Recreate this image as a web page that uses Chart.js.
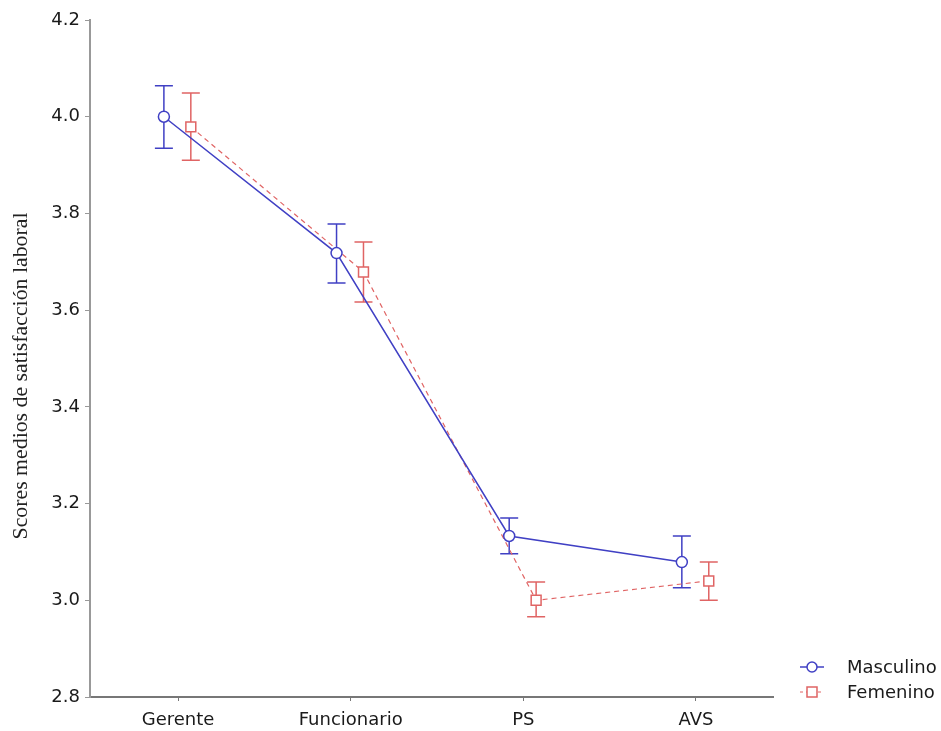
<!DOCTYPE html>
<html>
<head>
<meta charset="utf-8">
<script src="https://cdn.jsdelivr.net/npm/chart.js@4.4.0/dist/chart.umd.min.js"></script>
<style>
html,body{margin:0;padding:0;background:#fff;}
#wrap{width:941px;height:731px;position:relative;}
</style>
</head>
<body>
<div id="wrap"><canvas id="c" width="941" height="731"></canvas></div>
<script>
const categories = ['Gerente', 'Funcionario', 'PS', 'AVS'];
const yTicks = [2.8, 3.0, 3.2, 3.4, 3.6, 3.8, 4.0, 4.2];
const mascMean = [4.000, 3.718, 3.133, 3.079];
const mascLow  = [3.935, 3.656, 3.096, 3.026];
const mascHigh = [4.064, 3.778, 3.170, 3.133];
const femMean  = [3.979, 3.679, 3.000, 3.040];
const femLow   = [3.910, 3.617, 2.966, 3.000];
const femHigh  = [4.049, 3.741, 3.038, 3.079];

const BLUE = '#4040c4';
const RED = '#e06464';
const MOFF = -0.082, FOFF = 0.074;

const seriesInfo = [
  {label:'Masculino', mean:mascMean, low:mascLow, high:mascHigh, off:MOFF, color:BLUE, dash:[], style:'circle', r:5.5},
  {label:'Femenino', mean:femMean, low:femLow, high:femHigh, off:FOFF, color:RED, dash:[5,4], style:'rect', r:7}
];

const errorBars = {
  id:'errorBars',
  beforeDatasetsDraw(chart){
    const ctx = chart.ctx, xs = chart.scales.x, ys = chart.scales.y;
    seriesInfo.forEach(s=>{
      ctx.save();
      ctx.strokeStyle = s.color; ctx.lineWidth = 1.5; ctx.setLineDash([]);
      s.mean.forEach((m,i)=>{
        const x = xs.getPixelForValue(i + s.off);
        const y1 = ys.getPixelForValue(s.low[i]);
        const y2 = ys.getPixelForValue(s.high[i]);
        ctx.beginPath();
        ctx.moveTo(x,y1); ctx.lineTo(x,y2);
        ctx.moveTo(x-9,y1); ctx.lineTo(x+9,y1);
        ctx.moveTo(x-9,y2); ctx.lineTo(x+9,y2);
        ctx.stroke();
      });
      ctx.restore();
    });
  },
  afterDraw(chart){
    const ctx = chart.ctx;
    // y axis title
    ctx.save();
    ctx.translate(22, 376);
    ctx.rotate(-Math.PI/2);
    ctx.scale(1.09, 1);
    ctx.font = '20px "Liberation Serif", "Times New Roman", serif';
    ctx.fillStyle = '#222';
    ctx.textAlign = 'center'; ctx.textBaseline = 'middle';
    ctx.fillText('Scores medios de satisfacción laboral', 0, 0);
    ctx.restore();
    // legend
    const ly = [667, 692];
    seriesInfo.forEach((s,k)=>{
      const y = ly[k];
      ctx.save();
      ctx.strokeStyle = s.color; ctx.lineWidth = s.dash.length ? 1 : 1.5;
      ctx.setLineDash(s.dash.length ? [3,3] : []);
      ctx.beginPath(); ctx.moveTo(800,y); ctx.lineTo(824,y); ctx.stroke();
      ctx.setLineDash([]);
      ctx.lineWidth = 1.5; ctx.fillStyle = '#fff';
      ctx.beginPath();
      if (s.style==='circle') ctx.arc(812,y,5,0,Math.PI*2);
      else ctx.rect(807,y-5,10,10);
      ctx.fill(); ctx.stroke();
      ctx.fillStyle = '#1a1a1a';
      ctx.font = '18px "DejaVu Sans", sans-serif';
      ctx.textAlign = 'left'; ctx.textBaseline = 'middle';
      ctx.fillText(s.label, 847, y+1);
      ctx.restore();
    });
  }
};

const datasets = seriesInfo.map(s=>({
  label: s.label,
  data: s.mean.map((v,i)=>({x:i + s.off, y:v})),
  borderColor: s.color,
  borderWidth: s.dash.length ? 1.2 : 1.5,
  borderDash: s.dash,
  pointStyle: s.style,
  pointRadius: s.r,
  pointBorderWidth: 1.5,
  pointBackgroundColor: '#fff',
  pointBorderColor: s.color,
  tension: 0,
  fill: false
}));

new Chart(document.getElementById('c'), {
  type: 'line',
  data: { datasets },
  plugins: [errorBars],
  options: {
    responsive: false,
    animation: false,
    events: [],
    layout: { padding: { left: 0, top: 20, right: 168, bottom: 0 } },
    plugins: { legend: { display: false }, tooltip: { enabled: false } },
    scales: {
      x: {
        type: 'linear',
        min: -0.51, max: 3.446,
        afterFit(s){ s.height = 34; },
        afterBuildTicks(s){ s.ticks = categories.map((c,i)=>({value:i})); },
        ticks: {
          callback: (v)=> categories[v] !== undefined ? categories[v] : '',
          color: '#1a1a1a',
          font: { family: '"DejaVu Sans", sans-serif', size: 18 },
          padding: 9,
          maxRotation: 0, autoSkip: false
        },
        grid: { drawOnChartArea: false, drawTicks: true, tickLength: 4, color: '#777' },
        border: { color: '#777', width: 2 }
      },
      y: {
        min: 2.8, max: 4.2,
        afterFit(s){ s.width = 90; },
        afterBuildTicks(s){ s.ticks = yTicks.map(v=>({value:v})); },
        ticks: {
          callback: (v)=> Number(v).toFixed(1),
          color: '#1a1a1a',
          font: { family: '"DejaVu Sans", sans-serif', size: 18 },
          padding: 5
        },
        grid: { drawOnChartArea: false, drawTicks: true, tickLength: 5, color: '#999' },
        border: { color: '#999', width: 2 }
      }
    }
  }
});
</script>
</body>
</html>
